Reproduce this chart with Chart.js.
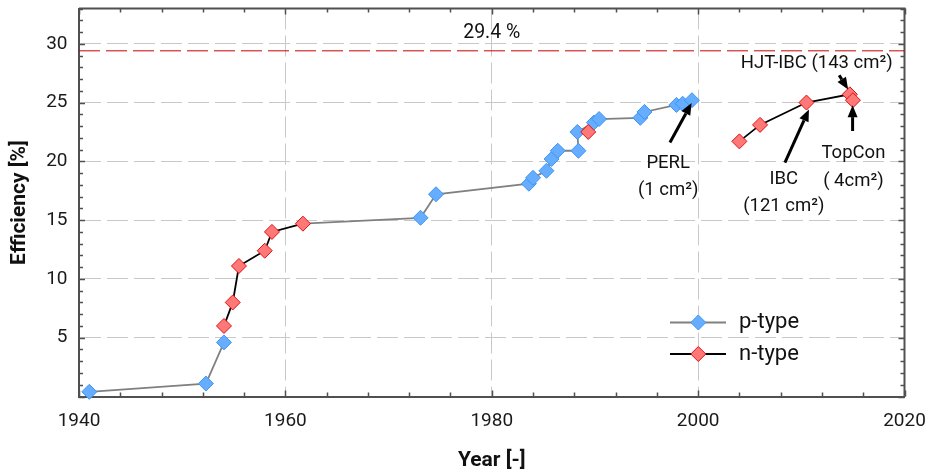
<!DOCTYPE html>
<html>
<head>
<meta charset="utf-8">
<script src="https://cdn.jsdelivr.net/npm/chart.js@4.4.1/dist/chart.umd.min.js"></script>
<style>
  html, body { margin:0; padding:0; background:#fff; }
  #wrap { width:933px; height:475px; }
</style>
</head>
<body>
<div id="wrap"><canvas id="eff" width="933" height="475"></canvas></div>
<script>
// ---- record cell efficiencies: year / efficiency [%] (null = break in the line) ----
const pYear = [1941.0, 1952.3, 1954.05, 1954.05, 1961.7, 1973.1, 1974.6, 1983.6, 1984.0, 1985.3, 1985.8,
               1986.4, 1988.4, 1988.3, 1989.9, 1990.4, 1994.4, 1994.8, 1997.9, 1998.5, 1999.4];
const pEff  = [0.4, 1.1, 4.6, null, 14.7, 15.2, 17.2, 18.1, 18.6, 19.2, 20.2,
               20.9, 20.9, 22.5, 23.3, 23.6, 23.7, 24.2, 24.8, 24.9, 25.2];
const pLinkOnly = [4];   // carries the gray line on from the n-type point, no marker

const nYear = [1954.05, 1954.9, 1955.5, 1958.0, 1958.7, 1961.7, 1961.7, 1989.35, 1989.35,
               2004.0, 2006.0, 2010.5, 2014.7, 2015.0];
const nEff  = [6.0, 8.0, 11.1, 12.4, 14.0, 14.7, null, 22.5, null,
               21.7, 23.1, 25.0, 25.7, 25.2];

const xTicks = [1940, 1960, 1980, 2000, 2020];
const yTicks = [5, 10, 15, 20, 25, 30];
const limitEff = 29.4;

// labels and arrows, anchored in data units
const notes = [
  { text: limitEff + ' %', x: 1980.0, y: 30.92, size: 19.5 },
  { text: 'PERL',       x: 1997.1, y: 19.8 },
  { text: '(1 cm²)',    x: 1997.1, y: 17.5 },
  { text: 'IBC',        x: 2008.3, y: 18.5 },
  { text: '(121 cm²)',  x: 2008.3, y: 16.2 },
  { text: 'HJT-IBC (143 cm²)', x: 2011.5, y: 28.33 },
  { text: 'TopCon',     x: 2015.05, y: 20.7 },
  { text: '( 4cm²)',    x: 2015.05, y: 18.3 }
];
const arrows = [
  { from: [1997.27, 21.6], to: [1999.37, 24.97] },
  { from: [2008.41, 19.9], to: [2010.74, 24.42] },
  { from: [2013.67, 27.32], to: [2014.54, 26.11] },
  { from: [2014.97, 22.58], to: [2014.97, 24.78] }
];

const AXIS = '#505050';
const GRID = '#c8c8c8';
const DASH = [21, 6];
const BLUE = { fill: '#66adff', edge: '#3d95f2', line: '#808080' };
const RED  = { fill: '#ff7878', edge: '#e01010', line: '#000000' };

Chart.defaults.font.family = 'Roboto';

function series(years, effs) {
  return years.map((x, i) => ({ x, y: effs[i] }));
}

function diamond(ctx, x, y, r, fill, edge) {
  ctx.beginPath();
  ctx.moveTo(x - r, y); ctx.lineTo(x, y - r); ctx.lineTo(x + r, y); ctx.lineTo(x, y + r);
  ctx.closePath();
  ctx.fillStyle = fill; ctx.fill();
  ctx.lineWidth = 1; ctx.strokeStyle = edge; ctx.stroke();
}

function arrow(ctx, x0, y0, x1, y1) {
  const ang = Math.atan2(y1 - y0, x1 - x0);
  const head = 12, half = 5;
  const bx = x1 - head * Math.cos(ang), by = y1 - head * Math.sin(ang);
  ctx.lineWidth = 3;
  ctx.beginPath(); ctx.moveTo(x0, y0); ctx.lineTo(bx, by); ctx.stroke();
  ctx.beginPath();
  ctx.moveTo(x1, y1);
  ctx.lineTo(bx + half * Math.sin(ang), by - half * Math.cos(ang));
  ctx.lineTo(bx - half * Math.sin(ang), by + half * Math.cos(ang));
  ctx.closePath(); ctx.fill();
}

// keep the plot box fixed: no extra room for edge labels
function noEdgePadding(s) {
  s.paddingTop = 0; s.paddingBottom = 0; s.paddingLeft = 0; s.paddingRight = 0;
}

// top/right frame, inward ticks and the 29.4 % limit line
const frame = {
  id: 'frame',
  beforeDatasetsDraw(chart) {
    const { ctx, chartArea: a, scales: { x, y } } = chart;
    ctx.save();
    ctx.strokeStyle = AXIS;
    ctx.lineWidth = 2;
    ctx.beginPath();
    ctx.moveTo(a.left, a.top); ctx.lineTo(a.right, a.top); ctx.lineTo(a.right, a.bottom);
    ctx.stroke();

    ctx.lineWidth = 1.5;
    ctx.beginPath();
    for (let v = x.min; v <= x.max; v += 4) {
      const px = Math.round(x.getPixelForValue(v)) + 0.5;
      const len = v % 20 === 0 ? 6 : 4;
      ctx.moveTo(px, a.bottom); ctx.lineTo(px, a.bottom - len);
      ctx.moveTo(px, a.top);    ctx.lineTo(px, a.top + len);
    }
    for (let v = 0; v <= y.max; v += 1) {
      const py = Math.round(y.getPixelForValue(v)) + 0.5;
      const len = v % 5 === 0 ? 6 : 4;
      ctx.moveTo(a.left, py);  ctx.lineTo(a.left + len, py);
      ctx.moveTo(a.right, py); ctx.lineTo(a.right - len, py);
    }
    ctx.stroke();

    const ly = y.getPixelForValue(limitEff);
    ctx.strokeStyle = '#c80000';
    ctx.lineWidth = 1;
    ctx.setLineDash(DASH);
    ctx.beginPath(); ctx.moveTo(a.left, ly); ctx.lineTo(a.right, ly); ctx.stroke();
    ctx.restore();
  },
  afterDatasetsDraw(chart) {
    const { ctx, scales: { x, y } } = chart;
    ctx.save();
    ctx.fillStyle = '#111';
    ctx.textAlign = 'center';
    ctx.textBaseline = 'middle';
    notes.forEach(n => {
      ctx.font = (n.size || 18.5) + 'px Roboto';
      ctx.fillText(n.text, x.getPixelForValue(n.x), y.getPixelForValue(n.y));
    });
    ctx.fillStyle = '#000';
    ctx.strokeStyle = '#000';
    arrows.forEach(r => arrow(ctx,
      x.getPixelForValue(r.from[0]), y.getPixelForValue(r.from[1]),
      x.getPixelForValue(r.to[0]), y.getPixelForValue(r.to[1])));

    // legend: line sample with the marker on it
    const rows = [
      { label: 'p-type', c: BLUE, y: 322.5 },
      { label: 'n-type', c: RED, y: 354 }
    ];
    rows.forEach(row => {
      ctx.strokeStyle = row.c.line;
      ctx.lineWidth = 1.8;
      ctx.beginPath(); ctx.moveTo(670, row.y); ctx.lineTo(726, row.y); ctx.stroke();
      diamond(ctx, 698.3, row.y, 7.5, row.c.fill, row.c.edge);
      ctx.fillStyle = '#111';
      ctx.font = '22px Roboto';
      ctx.textAlign = 'left';
      ctx.fillText(row.label, 739, row.y);
    });
    ctx.restore();
  }
};

new Chart(document.getElementById('eff'), {
  type: 'line',
  data: {
    datasets: [
      {
        label: 'p-type',
        data: series(pYear, pEff),
        borderColor: BLUE.line,
        borderWidth: 1.8,
        pointStyle: 'rectRot',
        pointRadius: pYear.map((_, i) => pLinkOnly.includes(i) ? 0 : 7.5),
        pointBackgroundColor: BLUE.fill,
        pointBorderColor: BLUE.edge,
        pointBorderWidth: 1,
        tension: 0,
        spanGaps: false,
        clip: false,
        order: 1
      },
      {
        label: 'n-type',
        data: series(nYear, nEff),
        borderColor: RED.line,
        borderWidth: 1.8,
        pointStyle: 'rectRot',
        pointRadius: 7.5,
        pointBackgroundColor: RED.fill,
        pointBorderColor: RED.edge,
        pointBorderWidth: 1,
        tension: 0,
        spanGaps: false,
        clip: false,
        order: 0
      }
    ]
  },
  options: {
    responsive: false,
    devicePixelRatio: 1,
    animation: false,
    events: [],
    layout: { padding: { top: 6.5, right: 28.5, left: 0, bottom: 0 } },
    plugins: { legend: { display: false }, tooltip: { enabled: false } },
    scales: {
      x: {
        type: 'linear',
        min: 1940,
        max: 2020,
        afterBuildTicks: s => { s.ticks = xTicks.map(v => ({ value: v })); },
        afterFit: s => { s.height = 78.5; noEdgePadding(s); },
        grid: {
          color: c => (c.tick && (c.tick.value === 1940 || c.tick.value === 2020)) ? 'rgba(0,0,0,0)' : GRID,
          lineWidth: 1,
          drawTicks: false
        },
        border: { color: AXIS, width: 2, dash: DASH },
        ticks: {
          color: '#1a1a1a', font: { size: 19 }, padding: 13, maxRotation: 0, autoSkip: false,
          callback: v => String(v)
        },
        title: {
          display: true, text: 'Year [-]', color: '#111',
          font: { size: 21, weight: 'bold', lineHeight: 1 },
          padding: { top: 0, bottom: 3.5 }
        }
      },
      y: {
        type: 'linear',
        min: 0,
        max: 33,
        afterBuildTicks: s => { s.ticks = yTicks.map(v => ({ value: v })); },
        afterFit: s => { s.width = 79; noEdgePadding(s); },
        grid: { color: GRID, lineWidth: 1, drawTicks: false },
        border: { color: AXIS, width: 2, dash: DASH },
        ticks: { color: '#1a1a1a', font: { size: 19 }, padding: 11.5 },
        title: {
          display: true, text: 'Efficiency [%]', color: '#111',
          font: { size: 21, weight: 'bold', lineHeight: 1 },
          padding: { top: 9.5, bottom: 0 }
        }
      }
    }
  },
  plugins: [frame]
});
</script>
</body>
</html>
